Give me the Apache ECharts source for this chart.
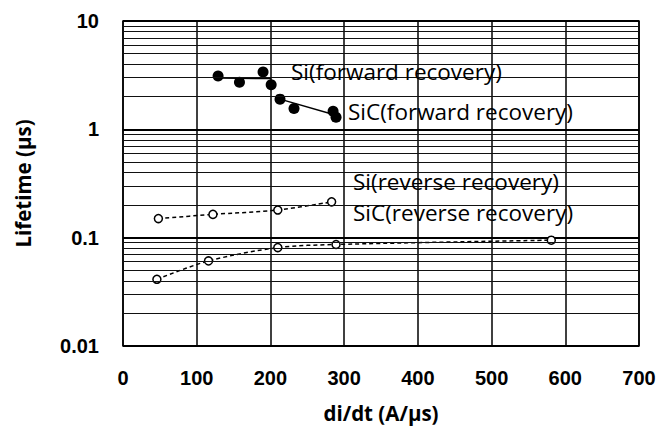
<!DOCTYPE html>
<html>
<head>
<meta charset="utf-8">
<script src="https://cdn.jsdelivr.net/npm/echarts@6/dist/echarts.min.js"></script>
<style>
  html, body { margin: 0; padding: 0; background: #fff; }
  #chart { width: 659px; height: 428px; }
</style>
</head>
<body>
<div id="chart"></div>
<script>
// di/dt (A/us) vs carrier lifetime (us)
const siForwardX = [129, 158, 190, 201];
const siForwardY = [3.1, 2.72, 3.38, 2.58];
const siForwardTrend = [[129, 2.98], [201, 2.94]];

const sicForwardX = [213, 232, 285, 289];
const sicForwardY = [1.9, 1.56, 1.47, 1.29];
const sicForwardTrend = [[213, 1.9], [289, 1.35]];

const siReverseX = [48, 122, 210, 283];
const siReverseY = [0.150, 0.164, 0.180, 0.214];

const sicReverseX = [46, 116, 210, 289, 581];
const sicReverseY = [0.0413, 0.061, 0.081, 0.0865, 0.0948];

const xTicks = [0, 100, 200, 300, 400, 500, 600, 700];
const yDecades = [0.01, 0.1, 1, 10];
const yMinorSteps = [2, 3, 4, 5, 6, 7, 8, 9];

const annotations = [
  { text: 'Si(forward recovery)', x: 291, y: 75 },
  { text: 'SiC(forward recovery)', x: 348, y: 115 },
  { text: 'Si(reverse recovery)', x: 353, y: 185 },
  { text: 'SiC(reverse recovery)', x: 353, y: 216 }
];

const zip = (xs, ys) => xs.map((x, i) => [x, ys[i]]);

// minor log gridlines (2..9 within each decade)
const minorLines = [];
yDecades.slice(0, -1).forEach(d => {
  yMinorSteps.forEach(m => minorLines.push({ yAxis: +(d * m).toPrecision(3) }));
});

const tickFont = { fontFamily: 'Liberation Sans', fontWeight: 'bold', fontSize: 20, color: '#000' };
const titleFont = { fontFamily: 'Open Sans', fontWeight: 'bold', fontSize: 20.5, color: '#000' };

const chart = echarts.init(document.getElementById('chart'), null, { renderer: 'svg' });
chart.setOption({
  animation: false,
  backgroundColor: '#fff',
  grid: { left: 123, right: 20, top: 21, bottom: 82, show: true, borderColor: '#000', borderWidth: 1.5 },
  xAxis: {
    type: 'value',
    min: xTicks[0],
    max: xTicks[xTicks.length - 1],
    interval: 100,
    name: 'di/dt (A/\u03bcs)',
    nameLocation: 'middle',
    nameGap: 56,
    nameTextStyle: titleFont,
    axisLine: { show: false },
    axisTick: { show: false },
    axisLabel: Object.assign({ margin: 22 }, tickFont),
    splitLine: { show: true, lineStyle: { color: '#000', width: 1.5 } }
  },
  yAxis: {
    type: 'log',
    logBase: 10,
    min: yDecades[0],
    max: yDecades[yDecades.length - 1],
    name: 'Lifetime (\u03bcs)',
    nameLocation: 'middle',
    nameGap: 90,
    nameRotate: 90,
    nameTextStyle: titleFont,
    axisLine: { show: false },
    axisTick: { show: false },
    axisLabel: Object.assign({ margin: 24, formatter: v => String(v) }, tickFont),
    splitLine: { show: true, lineStyle: { color: '#000', width: 2 } }
  },
  series: [
    {
      name: 'grid-minor',
      type: 'line',
      data: [],
      silent: true,
      markLine: {
        silent: true,
        symbol: 'none',
        label: { show: false },
        lineStyle: { color: '#111', width: 1, type: 'solid' },
        data: minorLines
      }
    },
    {
      name: 'Si forward trend',
      type: 'line',
      data: siForwardTrend,
      showSymbol: false,
      lineStyle: { color: '#000', width: 1.5 },
      z: 3
    },
    {
      name: 'SiC forward trend',
      type: 'line',
      data: sicForwardTrend,
      showSymbol: false,
      lineStyle: { color: '#000', width: 1.5 },
      z: 3
    },
    {
      name: 'Si(forward recovery)',
      type: 'scatter',
      data: zip(siForwardX, siForwardY),
      symbol: 'circle',
      symbolSize: 11,
      itemStyle: { color: '#000', opacity: 1 },
      z: 4
    },
    {
      name: 'SiC(forward recovery)',
      type: 'scatter',
      data: zip(sicForwardX, sicForwardY),
      symbol: 'circle',
      symbolSize: 11,
      itemStyle: { color: '#000', opacity: 1 },
      z: 4
    },
    {
      name: 'Si(reverse recovery)',
      type: 'line',
      data: zip(siReverseX, siReverseY),
      smooth: 0.3,
      symbol: 'circle',
      symbolSize: 8,
      showAllSymbol: true,
      lineStyle: { color: '#000', width: 1.5, type: [4, 3] },
      itemStyle: { color: '#fff', borderColor: '#000', borderWidth: 1.5 },
      z: 4
    },
    {
      name: 'SiC(reverse recovery)',
      type: 'line',
      data: zip(sicReverseX, sicReverseY),
      smooth: 0.3,
      symbol: 'circle',
      symbolSize: 8,
      showAllSymbol: true,
      lineStyle: { color: '#000', width: 1.5, type: [4, 3] },
      itemStyle: { color: '#fff', borderColor: '#000', borderWidth: 1.5 },
      z: 4
    }
  ],
  graphic: annotations.map(a => ({
    type: 'text',
    left: a.x,
    top: a.y - 15,
    z: 10,
    style: {
      text: a.text,
      fontFamily: 'Open Sans',
      fontSize: 22.5,
      fill: '#000'
    }
  }))
});
</script>
</body>
</html>
